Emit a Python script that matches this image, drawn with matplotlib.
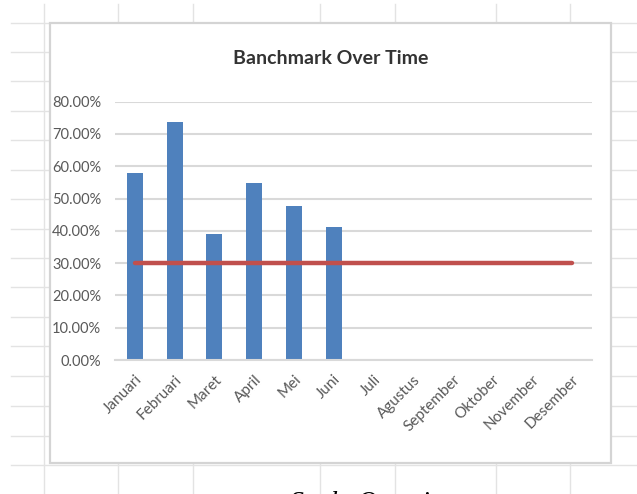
import matplotlib.pyplot as plt
from matplotlib.patches import Rectangle
from matplotlib.ticker import FuncFormatter
import numpy as np

bulan = ['Januari', 'Februari', 'Maret', 'April', 'Mei', 'Juni', 'Juli',
         'Agustus', 'September', 'Oktober', 'November', 'Desember']
nilai = [0.578, 0.737, 0.391, 0.549, 0.477, 0.411]
benchmark = [0.30] * 12
yticks = [0.0, 0.1, 0.2, 0.3, 0.4, 0.5, 0.6, 0.7, 0.8]

W, H = 637, 494
fig = plt.figure(figsize=(W / 100, H / 100), dpi=100)
fig.patch.set_facecolor('white')

# spreadsheet behind the chart
bg = fig.add_axes([0, 0, 1, 1], zorder=0)
bg.set_xlim(0, W)
bg.set_ylim(H, 0)
bg.axis('off')
sheet_col = '#e3e3e3'
for y in [23, 52, 81, 111, 140, 170, 199, 229, 258, 287, 317, 346, 376,
          406, 436, 465]:
    bg.plot([11, W], [y, y], color=sheet_col, lw=1.0)
for x in [44, 118, 193, 320, 395, 496, 570]:
    bg.plot([x, x], [4, H], color=sheet_col, lw=1.0)
bg.add_patch(Rectangle((50, 23), 561, 440, facecolor='white',
                       edgecolor='#d4d4d4', lw=1.6, zorder=3))

# chart
ax = fig.add_axes([115 / W, (H - 360) / H, 477 / W, 258.3 / H], zorder=1)
ax.patch.set_alpha(0)
x = np.arange(len(bulan))
ax.bar(x[:len(nilai)], nilai, width=0.4, color='#4F81BD', zorder=2)
ax.plot(x, benchmark, color='#C0504D', lw=3.2, solid_capstyle='round',
        zorder=3)

ax.set_xlim(-0.5, len(bulan) - 0.5)
ax.set_ylim(0, 0.8)
ax.set_yticks(yticks)
ax.yaxis.set_major_formatter(FuncFormatter(lambda v, p: '%.2f%%' % (v * 100)))
ax.grid(axis='y', color='#d9d9d9', lw=1.5, zorder=0)
ax.set_axisbelow(True)
for s in ['top', 'right', 'left']:
    ax.spines[s].set_visible(False)
ax.spines['bottom'].set_color('#d9d9d9')
ax.spines['bottom'].set_linewidth(1.5)
ax.tick_params(axis='both', length=0, colors='#595959', labelsize=10.5)
ax.tick_params(axis='y', pad=10)
ax.tick_params(axis='x', pad=9)
ax.set_xticks(x)
ax.set_xticklabels(bulan, rotation=45, ha='right', rotation_mode='anchor',
                   family='Lato', color='#595959', fontsize=11)
for lbl in ax.get_yticklabels():
    lbl.set_family('Lato')

fig.text(331 / W, (H - 58) / H, 'Banchmark Over Time', ha='center',
         va='center', fontsize=14, fontweight='bold', family='Lato',
         color='#333333')

fig.text(290 / W, -0.033, 'Scale Question', ha='left', va='baseline',
         fontsize=20, style='italic', family='Liberation Serif',
         color='black')

fig.savefig('out.png', dpi=100)
